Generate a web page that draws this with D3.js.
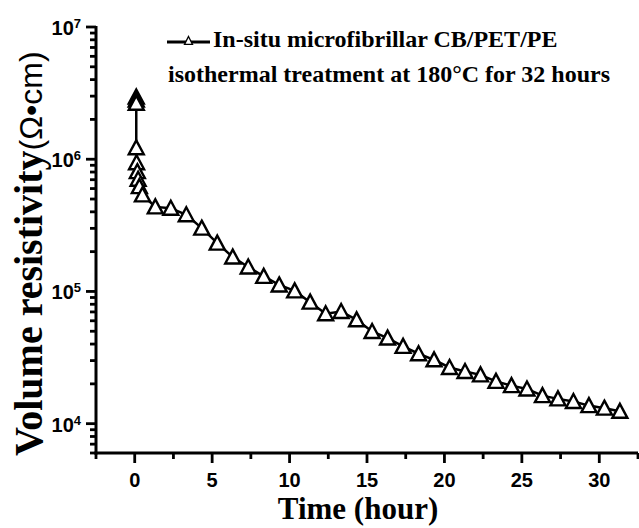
<!DOCTYPE html>
<html>
<head>
<meta charset="utf-8">
<script src="https://cdn.jsdelivr.net/npm/d3@7"></script>
<style>
  body { margin: 0; background: #fff; }
  svg { display: block; }
</style>
</head>
<body>
<div id="chart"></div>
<script>
// Time (hour) and volume resistivity (Ω·cm)
const timeHours = [0.1, 0.1, 0.1, 0.1, 0.12, 0.17, 0.22, 0.3, 0.5,
  1.33, 2.33, 3.33, 4.33, 5.33, 6.33, 7.33, 8.33, 9.33, 10.33,
  11.33, 12.33, 13.33, 14.33, 15.33, 16.33, 17.33, 18.33, 19.33, 20.33,
  21.33, 22.33, 23.33, 24.33, 25.33, 26.33, 27.33, 28.33, 29.33, 30.33, 31.33];
const resistivity = [2.95e6, 2.8e6, 2.65e6, 1.22e6, 9.4e5, 8.05e5, 7.06e5, 6.21e5, 5.37e5,
  4.36e5, 4.26e5, 3.8e5, 3.01e5, 2.32e5, 1.82e5, 1.53e5, 1.3e5, 1.12e5, 1.01e5,
  8.3e4, 6.78e4, 7.05e4, 6.1e4, 4.98e4, 4.44e4, 3.84e4, 3.38e4, 3.04e4, 2.66e4,
  2.48e4, 2.34e4, 2.09e4, 1.94e4, 1.83e4, 1.63e4, 1.54e4, 1.47e4, 1.37e4, 1.31e4, 1.24e4];

const xMajorTicks = [0, 5, 10, 15, 20, 25, 30];
const xMinorTicks = [-2.5, 2.5, 7.5, 12.5, 17.5, 22.5, 27.5, 32.5];
const yMajorExponents = [4, 5, 6, 7];
const yMinorTicks = [6e3, 7e3, 8e3, 9e3,
  2e4, 3e4, 4e4, 5e4, 6e4, 7e4, 8e4, 9e4,
  2e5, 3e5, 4e5, 5e5, 6e5, 7e5, 8e5, 9e5,
  2e6, 3e6, 4e6, 5e6, 6e6, 7e6, 8e6, 9e6];

const legendLines = ['In-situ microfibrillar CB/PET/PE', 'isothermal treatment at 180°C for 32 hours'];
const xTitle = 'Time (hour)';
const yTitle = 'Volume resistivity';
const yUnit = '(Ω•cm)';

const width = 639, height = 528;
const data = timeHours.map((t, i) => ({ t, v: resistivity[i] }));

const svg = d3.select('#chart').append('svg')
  .attr('width', width)
  .attr('height', height);

const x = d3.scaleLinear().domain([-2.5, 32.5]).range([96, 638]);
const y = d3.scaleLog().domain([6e3, 1e7]).range([453, 27]);

const serif = '"Liberation Serif", "Times New Roman", serif';
const sans = '"Liberation Sans", Arial, sans-serif';
const x0 = x(-2.5), y0 = y(6e3);

// Ticks (outward)
const ticks = svg.append('g');
const tickLine = (sel) => sel.attr('stroke', '#000').attr('stroke-width', 2.8);
ticks.selectAll('line.xmaj').data(xMajorTicks).join('line').attr('class', 'xmaj').call(tickLine)
  .attr('x1', d => x(d)).attr('x2', d => x(d)).attr('y1', y0).attr('y2', y0 + 10);
ticks.selectAll('line.xmin').data(xMinorTicks).join('line').attr('class', 'xmin').call(tickLine)
  .attr('x1', d => x(d)).attr('x2', d => x(d)).attr('y1', y0).attr('y2', y0 + 6);
ticks.selectAll('line.ymaj').data(yMajorExponents).join('line').attr('class', 'ymaj').call(tickLine)
  .attr('x1', x0 - 10).attr('x2', x0).attr('y1', d => y(Math.pow(10, d))).attr('y2', d => y(Math.pow(10, d)));
ticks.selectAll('line.ymin').data(yMinorTicks).join('line').attr('class', 'ymin').call(tickLine)
  .attr('x1', x0 - 6).attr('x2', x0).attr('y1', d => y(d)).attr('y2', d => y(d));

// Axis lines
svg.append('line').attr('x1', x0).attr('x2', x0).attr('y1', y(1e7) - 1).attr('y2', y0 + 1.5)
  .attr('stroke', '#000').attr('stroke-width', 3);
svg.append('line').attr('x1', x0 - 1.5).attr('x2', x(32.5)).attr('y1', y0).attr('y2', y0)
  .attr('stroke', '#000').attr('stroke-width', 3);

// x tick labels
svg.append('g').selectAll('text')
  .data(xMajorTicks)
  .join('text')
  .attr('x', d => x(d))
  .attr('y', 487)
  .attr('text-anchor', 'middle')
  .style('font-family', sans)
  .style('font-weight', 'bold')
  .style('font-size', '20px')
  .text(d => d);

// y tick labels as 10^n
const yLabels = svg.append('g');
yMajorExponents.forEach(e => {
  const t = yLabels.append('text')
    .attr('x', 81)
    .attr('y', y(Math.pow(10, e)) + 8)
    .attr('text-anchor', 'end')
    .style('font-family', sans)
    .style('font-weight', 'bold')
    .style('font-size', '20px');
  t.append('tspan').text('10');
  t.append('tspan').attr('dy', -7).style('font-size', '13px').text(e);
});

// Line and markers
const line = d3.line().x(d => x(d.t)).y(d => y(d.v));
svg.append('path')
  .datum(data)
  .attr('fill', 'none')
  .attr('stroke', '#000')
  .attr('stroke-width', 2.5)
  .attr('d', line);

const tri = (s) => {
  const h = s * Math.sqrt(3) / 2;
  return `M0,${-h / 2 - 1}L${s / 2},${h / 2}L${-s / 2},${h / 2}Z`;
};

svg.append('g').selectAll('path')
  .data(data)
  .join('path')
  .attr('transform', d => `translate(${x(d.t)},${y(d.v)})`)
  .attr('d', tri(15))
  .attr('fill', '#fff')
  .attr('stroke', '#000')
  .attr('stroke-width', 2.4)
  .attr('stroke-linejoin', 'miter');

// Legend
const lg = svg.append('g');
lg.append('line')
  .attr('x1', 167).attr('x2', 210).attr('y1', 42).attr('y2', 42)
  .attr('stroke', '#000').attr('stroke-width', 3);
lg.append('path')
  .attr('transform', 'translate(188.5,41)')
  .attr('d', tri(8))
  .attr('fill', '#fff').attr('stroke', '#000').attr('stroke-width', 1.3);
lg.append('text')
  .attr('x', 213).attr('y', 47)
  .style('font-family', serif).style('font-weight', 'bold').style('font-size', '24px')
  .text(legendLines[0]);
lg.append('text')
  .attr('x', 168).attr('y', 82)
  .style('font-family', serif).style('font-weight', 'bold').style('font-size', '24px')
  .text(legendLines[1]);

// Axis titles
svg.append('text')
  .attr('x', 358)
  .attr('y', 519)
  .attr('text-anchor', 'middle')
  .style('font-family', serif).style('font-weight', 'bold').style('font-size', '31px')
  .text(xTitle);

const yt = svg.append('text')
  .attr('transform', 'translate(42,456) rotate(-90)')
  .attr('text-anchor', 'start')
  .style('font-family', serif).style('font-weight', 'bold').style('font-size', '40px');
yt.append('tspan').text(yTitle);
yt.append('tspan').style('font-family', sans).style('font-weight', 'normal').style('font-size', '32px').text(yUnit);
</script>
</body>
</html>
